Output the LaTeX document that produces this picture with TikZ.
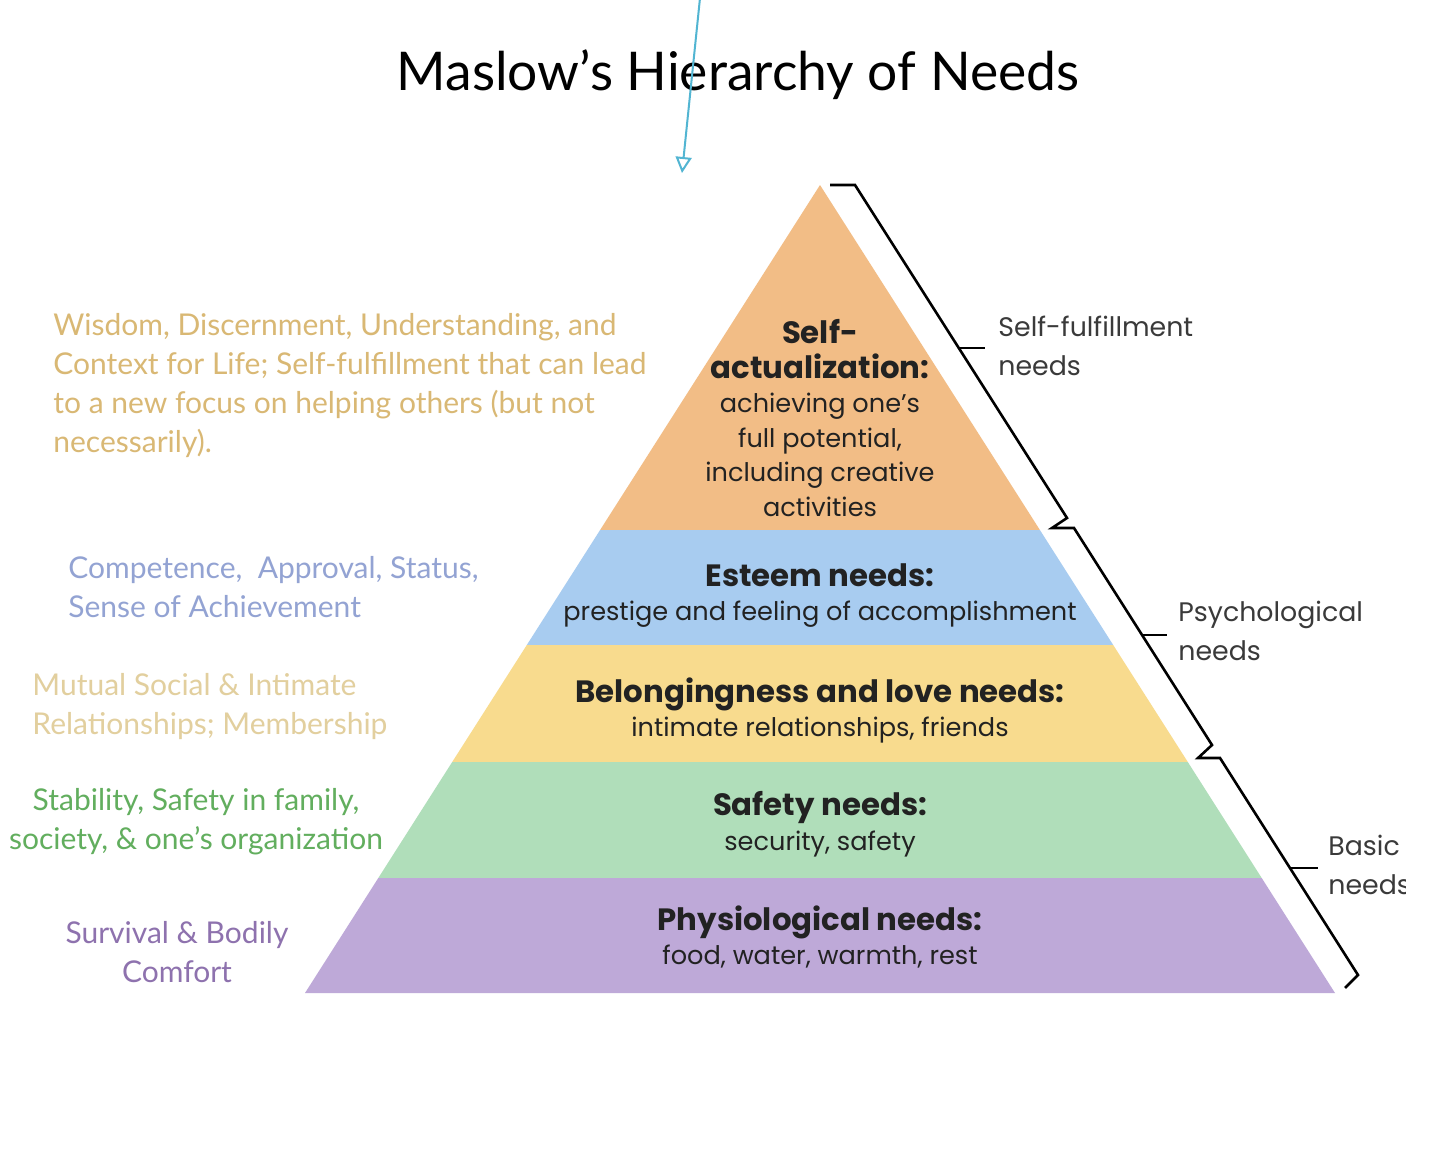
\documentclass[tikz,border=0pt]{standalone}
\usepackage{fontspec}
\setmainfont{Lato}
\newfontfamily\futura{Poppins}
\usetikzlibrary{arrows.meta}

\definecolor{orng}{HTML}{F2BD86}
\definecolor{blu}{HTML}{A8CCF0}
\definecolor{yel}{HTML}{F8DB8E}
\definecolor{grn}{HTML}{B0DEBA}
\definecolor{prp}{HTML}{BEA9D8}
\definecolor{gold}{HTML}{D9B874}
\definecolor{peri}{HTML}{93A3D3}
\definecolor{tanc}{HTML}{E2CF9E}
\definecolor{leaf}{HTML}{62AE5E}
\definecolor{lav}{HTML}{8E72AE}
\definecolor{ink}{HTML}{222222}
\definecolor{graytxt}{HTML}{3A3A3A}
\definecolor{arrowc}{HTML}{52B5D2}

\tikzset{
  pyrtext/.style={inner sep=0pt, align=center, anchor=north, text=ink,
    font=\futura\fontsize{12.8}{17.3}\selectfont},
  sidetext/.style={inner sep=0pt, align=left, anchor=north west,
    font=\fontsize{15}{19.5}\selectfont},
  sidectr/.style={inner sep=0pt, align=center, anchor=north,
    font=\fontsize{15}{19.5}\selectfont},
  grouplabel/.style={inner sep=0pt, align=left, anchor=north west, text=graytxt,
    font=\futura\fontsize{13.4}{19.5}\selectfont},
  bracketline/.style={draw=black, line width=1.3pt, line join=miter}
}
\newcommand{\hdg}[1]{{\bfseries\fontsize{15.4}{18.5}\selectfont #1}}

\begin{document}
\begin{tikzpicture}[x=0.5pt,y=-0.5pt]
\useasboundingbox (0,0) rectangle (1440,1152);
\fill[white] (0,0) rectangle (1440,1152);
\clip (0,0) rectangle (1405,1152);

% pyramid bands
\fill[orng] (820,185) -- (1039.9,530) -- (600.1,530) -- cycle;
\fill[blu] (600.1,530) -- (1039.9,530) -- (1113.2,645) -- (526.8,645) -- cycle;
\fill[yel] (526.8,645) -- (1113.2,645) -- (1187.8,762) -- (452.2,762) -- cycle;
\fill[grn] (452.2,762) -- (1187.8,762) -- (1261.7,878) -- (378.3,878) -- cycle;
\fill[prp] (378.3,878) -- (1261.7,878) -- (1335,993) -- (305,993) -- cycle;

% title
\node[inner sep=0pt, anchor=base, text=black, font=\fontsize{26.7}{30}\selectfont] (title) at (738,90) {Maslow’s Hierarchy of Needs};

% arrow
\coordinate (arrS) at (700,-2);
\coordinate (arrE) at (682,173);
\draw[arrowc, line width=1pt, -{Triangle[open, length=8pt, width=8pt, line width=1pt]}] (arrS) -- (arrE);

% pyramid texts
\node[pyrtext] (selfact) at (820,319) {\hdg{Self-}\\\hdg{actualization:}\\achieving one’s\\full potential,\\including creative\\activities};
\node[pyrtext] (esteem) at (820,563) {\hdg{Esteem needs:}\\prestige and feeling of accomplishment};
\node[pyrtext] (belong) at (820,677) {\hdg{Belongingness and love needs:}\\intimate relationships, friends};
\node[pyrtext] (safety) at (820,791) {\hdg{Safety needs:}\\security, safety};
\node[pyrtext] (physio) at (820,905) {\hdg{Physiological needs:}\\food, water, warmth, rest};

% left descriptions
\node[sidetext, text=gold] (wisdom) at (53,313) {Wisdom, Discernment, Understanding, and\\Context for Life; Self-fulfillment that can lead\\to a new focus on helping others (but not\\necessarily).};
\node[sidetext, text=peri] (compet) at (68,556) {Competence,\ \ Approval, Status,\\Sense of Achievement};
\node[sidetext, text=tanc] (mutual) at (32,673) {Mutual Social \& Intimate\\Relationships; Membership};
\node[sidectr, text=leaf] (stab) at (196,788) {Stability, Safety in family,\\society, \& one’s organization};
\node[sidectr, text=lav] (surv) at (177,921) {Survival \& Bodily\\Comfort};

% brackets
\coordinate (b1a) at (830,185);
\coordinate (b1b) at (855,185);
\coordinate (b1c) at (1067,518);
\coordinate (b1d) at (1052,528);
\coordinate (b2b) at (1074,528);
\coordinate (b2c) at (1212,745);
\coordinate (b2d) at (1198,758);
\coordinate (b3b) at (1220,758);
\coordinate (b3c) at (1358,975);
\coordinate (b3d) at (1345,988);
\draw[bracketline] (b1a) -- (b1b) -- (b1c) -- (b1d) -- (b2b) -- (b2c) -- (b2d) -- (b3b) -- (b3c) -- (b3d);
\coordinate (t1a) at (959,348);
\coordinate (t1b) at (985,348);
\coordinate (t2a) at (1142,635);
\coordinate (t2b) at (1167,635);
\coordinate (t3a) at (1290,868);
\coordinate (t3b) at (1318,868);
\draw[bracketline] (t1a) -- (t1b);
\draw[bracketline] (t2a) -- (t2b);
\draw[bracketline] (t3a) -- (t3b);

% group labels
\node[grouplabel] (selfful) at (998,316) {Self-fulfillment\\needs};
\node[grouplabel] (psych) at (1178,601) {Psychological\\needs};
\node[grouplabel] (basic) at (1328,835) {Basic\\needs};
\end{tikzpicture}
\end{document}
